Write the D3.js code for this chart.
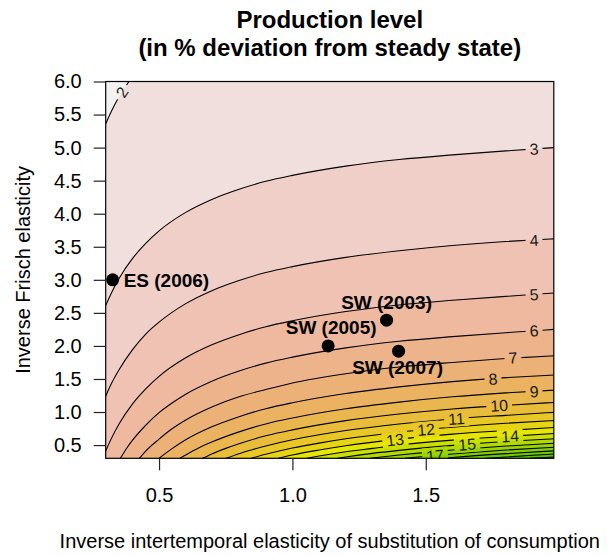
<!DOCTYPE html>
<html><head><meta charset="utf-8">
<script src="https://cdn.jsdelivr.net/npm/d3@7"></script>
<style>
body{margin:0;background:#fff}
text{font-family:"Liberation Sans",Arial,Helvetica,sans-serif}
</style>
</head><body>
<svg id="chart" width="611" height="555"></svg>
<script>
// ---------- data ----------
const sigmaTicks = [0.5, 1.0, 1.5];
const phiTicks = [0.5, 1.0, 1.5, 2.0, 2.5, 3.0, 3.5, 4.0, 4.5, 5.0, 5.5, 6.0];

// contour lines: [sigma, phi] points for each production level
const c2  = [[0.30,5.36],[0.32,5.54],[0.35,5.77],[0.40,6.07],[0.45,6.30],[0.50,6.49]];
const c3  = [[0.30,2.61],[0.32,2.79],[0.35,3.02],[0.40,3.32],[0.45,3.55],[0.50,3.74],[0.60,4.02],[0.70,4.22],[0.80,4.37],[0.90,4.49],[1.00,4.58],[1.20,4.72],[1.40,4.82],[1.60,4.89],[1.80,4.95],[1.98,5.00]];
const c4  = [[0.30,1.24],[0.32,1.42],[0.35,1.64],[0.40,1.94],[0.45,2.18],[0.50,2.36],[0.60,2.64],[0.70,2.84],[0.80,2.99],[0.90,3.11],[1.00,3.20],[1.20,3.34],[1.40,3.44],[1.60,3.52],[1.80,3.58],[1.98,3.62]];
const c5  = [[0.30,0.41],[0.32,0.59],[0.35,0.82],[0.40,1.12],[0.45,1.35],[0.50,1.54],[0.60,1.82],[0.70,2.02],[0.80,2.17],[0.90,2.29],[1.00,2.38],[1.20,2.52],[1.40,2.62],[1.60,2.69],[1.80,2.75],[1.98,2.80]];
const c6  = [[0.355,0.30],[0.38,0.46],[0.40,0.57],[0.45,0.80],[0.50,0.99],[0.55,1.14],[0.60,1.27],[0.70,1.47],[0.80,1.62],[0.90,1.74],[1.00,1.83],[1.20,1.97],[1.40,2.07],[1.60,2.14],[1.80,2.20],[1.98,2.25]];
const c7  = [[0.426,0.30],[0.45,0.41],[0.50,0.59],[0.55,0.75],[0.60,0.88],[0.70,1.08],[0.80,1.23],[0.90,1.34],[1.00,1.44],[1.20,1.58],[1.40,1.68],[1.60,1.75],[1.80,1.81],[1.98,1.85]];
const c8  = [[0.50,0.30],[0.55,0.45],[0.60,0.58],[0.70,0.78],[0.80,0.93],[0.90,1.05],[1.00,1.14],[1.20,1.28],[1.40,1.38],[1.60,1.46],[1.80,1.52],[1.98,1.56]];
const c9  = [[0.579,0.30],[0.60,0.35],[0.65,0.46],[0.70,0.55],[0.80,0.70],[0.90,0.82],[1.00,0.91],[1.20,1.05],[1.40,1.15],[1.60,1.23],[1.80,1.29],[1.98,1.33]];
const c10 = [[0.663,0.30],[0.70,0.37],[0.75,0.45],[0.80,0.52],[0.90,0.64],[1.00,0.73],[1.20,0.87],[1.40,0.97],[1.60,1.045],[1.80,1.10],[1.98,1.145]];
const c11 = [[0.751,0.30],[0.80,0.37],[0.85,0.43],[0.90,0.485],[1.00,0.58],[1.10,0.655],[1.20,0.72],[1.40,0.82],[1.60,0.895],[1.80,0.95],[1.98,0.995]];
const c12 = [[0.845,0.30],[0.90,0.36],[1.00,0.455],[1.10,0.53],[1.20,0.595],[1.40,0.695],[1.60,0.77],[1.80,0.83],[1.98,0.87]];
const c13 = [[0.946,0.30],[1.00,0.35],[1.10,0.425],[1.20,0.49],[1.40,0.59],[1.60,0.665],[1.80,0.72],[1.98,0.765]];
const c14 = [[1.053,0.30],[1.10,0.335],[1.20,0.40],[1.30,0.45],[1.40,0.50],[1.60,0.575],[1.80,0.63],[1.98,0.675]];
const c15 = [[1.168,0.30],[1.20,0.32],[1.30,0.375],[1.40,0.42],[1.60,0.495],[1.80,0.555],[1.98,0.595]];
const c16 = [[1.291,0.30],[1.40,0.35],[1.50,0.39],[1.60,0.425],[1.80,0.485],[1.98,0.527]];
const c17 = [[1.422,0.30],[1.50,0.33],[1.60,0.365],[1.80,0.425],[1.98,0.467]];
const c18 = [[1.565,0.30],[1.60,0.312],[1.80,0.37],[1.98,0.413]];
const c19 = [[1.722,0.30],[1.80,0.32],[1.90,0.345],[1.98,0.364]];
const c20 = [[1.888,0.30],[1.98,0.32]];
const contourLevels = [2,3,4,5,6,7,8,9,10,11,12,13,14,15,16,17,18,19,20];
const contourPoints = [c2,c3,c4,c5,c6,c7,c8,c9,c10,c11,c12,c13,c14,c15,c16,c17,c18,c19,c20];

// contour labels
const labelLevels = [2,3,4,5,6,7,8,9,10,11,12,13,14,15,17];
const labelSigma  = [0.361,1.906,1.906,1.906,1.906,1.827,1.752,1.906,1.775,1.615,1.501,1.385,1.816,1.655,1.535];
const labelPhi    = [5.84,4.98,3.60,2.78,2.23,1.82,1.50,1.31,1.10,0.90,0.735,0.582,0.636,0.512,0.343];

// estimates from the literature
const studyNames = ["ES (2006)","SW (2003)","SW (2005)","SW (2007)"];
const studySigma = [0.326, 1.353, 1.134, 1.398];
const studyPhi   = [3.00, 2.39, 2.00, 1.92];

// ---------- palette: reversed R terrain.colors(n) ----------
function hsv2rgb(h,s,v){
  const i = Math.floor(h*6), f = h*6 - i;
  const p = v*(1-s), q = v*(1-f*s), t = v*(1-(1-f)*s);
  let r,g,b;
  switch(((i%6)+6)%6){
    case 0: r=v;g=t;b=p;break; case 1: r=q;g=v;b=p;break;
    case 2: r=p;g=v;b=t;break; case 3: r=p;g=q;b=v;break;
    case 4: r=t;g=p;b=v;break; default: r=v;g=p;b=q;
  }
  return d3.rgb(Math.round(r*255),Math.round(g*255),Math.round(b*255)).formatHex();
}
function terrainColors(n){
  const k = Math.floor(n/2);
  const h=[4/12,2/12,0], s=[1,1,0], v=[0.65,0.9,0.95];
  const seq=(a,b,m,i)=> m===1 ? a : a+(b-a)*i/(m-1);
  const out=[];
  for(let i=0;i<k;i++) out.push(hsv2rgb(seq(h[0],h[1],k,i),seq(s[0],s[1],k,i),seq(v[0],v[1],k,i)));
  const m=n-k+1;
  for(let i=1;i<m;i++) out.push(hsv2rgb(seq(h[1],h[2],m,i),seq(s[1],s[2],m,i),seq(v[1],v[2],m,i)));
  return out;
}
const bandColors = terrainColors(24).reverse(); // band [1,2] -> index 0

// ---------- drawing ----------
const FONT = '"Liberation Sans",Arial,Helvetica,sans-serif';
const svg = d3.select("#chart");
svg.append("rect").attr("width",611).attr("height",555).attr("fill","#fff");

const x = d3.scaleLinear().domain([0.3, 1.98]).range([105.7, 553.8]);
const y = d3.scaleLinear().domain([0.3, 6.0]).range([458.3, 81.5]);
const [xL, xR] = x.range(), [yB, yT] = y.range();

const defs = svg.append("defs");
defs.append("clipPath").attr("id","plotclip").append("rect")
  .attr("x",xL).attr("y",yT).attr("width",xR-xL).attr("height",yB-yT);
const mask = defs.append("mask").attr("id","labmask")
  .attr("maskUnits","userSpaceOnUse").attr("x",0).attr("y",0).attr("width",611).attr("height",555);
mask.append("rect").attr("width",611).attr("height",555).attr("fill","#fff");

const plot = svg.append("g").attr("clip-path","url(#plotclip)");
plot.append("rect").attr("x",xL).attr("y",yT).attr("width",xR-xL).attr("height",yB-yT)
  .attr("fill",bandColors[0]);

const line = d3.line().x(d=>x(d[0])).y(d=>y(d[1])).curve(d3.curveMonotoneX);

contourLevels.forEach((lev,i)=>{
  const pts = contourPoints[i];
  const first = pts[0], last = pts[pts.length-1];
  const d = line(pts) + `L${xR+5},${y(last[1])}L${xR+5},${yB+5}L${x(first[0])},${yB+5}Z`;
  plot.append("path").attr("d",d).attr("fill",bandColors[lev-1]).attr("stroke","none");
});

const lineG = plot.append("g").attr("mask","url(#labmask)");
contourLevels.forEach((lev,i)=>{
  lineG.append("path").attr("d",line(contourPoints[i]))
    .attr("fill","none").attr("stroke","#000").attr("stroke-width",1.1);
});

// labels along contours
const labG = plot.append("g");
labelLevels.forEach((lev,i)=>{
  const pts = contourPoints[contourLevels.indexOf(lev)];
  const s = labelSigma[i];
  let j = pts.findIndex(p=>p[0]>=s); if(j<1) j=1;
  const a = pts[j-1], b = pts[j];
  const ang = Math.atan2(y(b[1])-y(a[1]), x(b[0])-x(a[0]))*180/Math.PI;
  const px = x(s), py = y(labelPhi[i]);
  const t = labG.append("text").attr("transform",`translate(${px},${py}) rotate(${ang})`)
    .attr("text-anchor","middle").attr("dy","0.36em")
    .attr("font-size",16).attr("font-family",FONT).attr("fill","#1a1a1a").text(lev);
  const w = t.node().getComputedTextLength();
  mask.append("rect").attr("x",-w/2-4).attr("y",-8).attr("width",w+8).attr("height",16)
    .attr("transform",`translate(${px},${py}) rotate(${ang})`).attr("fill","#000");
});

// study points
const ptG = svg.append("g");
const labelPlace = [
  {dx:11, dy:7, anchor:"start"},
  {dx:0, dy:-11, anchor:"middle"},
  {dx:3, dy:-12, anchor:"middle"},
  {dx:-1, dy:23, anchor:"middle"}
];
studyNames.forEach((nm,i)=>{
  const px = x(studySigma[i]), py = y(studyPhi[i]);
  ptG.append("circle").attr("cx",px).attr("cy",py).attr("r",6.5).attr("fill","#000");
  ptG.append("text").attr("x",px+labelPlace[i].dx).attr("y",py+labelPlace[i].dy)
    .attr("text-anchor",labelPlace[i].anchor).attr("font-size",19).attr("font-weight","bold")
    .attr("font-family",FONT).attr("fill","#000").text(nm);
});

// box
svg.append("rect").attr("x",xL).attr("y",yT).attr("width",xR-xL).attr("height",yB-yT)
  .attr("fill","none").attr("stroke","#000").attr("stroke-width",1.2);

// axes
const yAxis = d3.axisLeft(y).tickValues(phiTicks).tickFormat(d3.format(".1f")).tickSize(12).tickPadding(12);
svg.append("g").attr("transform",`translate(${xL},0)`).call(yAxis)
  .attr("font-size",20).attr("font-family",FONT)
  .call(g=>g.select(".domain").remove())
  .call(g=>g.selectAll("line").attr("stroke","#222").attr("stroke-width",1.2))
  .call(g=>g.selectAll("text").attr("fill","#000"));
const xAxis = d3.axisBottom(x).tickValues(sigmaTicks).tickFormat(d3.format(".1f")).tickSize(12).tickPadding(18);
svg.append("g").attr("transform",`translate(0,${yB})`).call(xAxis)
  .attr("font-size",20).attr("font-family",FONT)
  .call(g=>g.select(".domain").remove())
  .call(g=>g.selectAll("line").attr("stroke","#222").attr("stroke-width",1.2))
  .call(g=>g.selectAll("text").attr("fill","#000"));

// titles
const cx = (xL+xR)/2;
svg.append("text").attr("x",cx).attr("y",28).attr("text-anchor","middle")
  .attr("font-size",24).attr("font-weight","bold").attr("font-family",FONT).text("Production level");
svg.append("text").attr("x",cx).attr("y",56).attr("text-anchor","middle")
  .attr("font-size",24).attr("font-weight","bold").attr("font-family",FONT).text("(in % deviation from steady state)");
svg.append("text").attr("x",cx).attr("y",548).attr("text-anchor","middle")
  .attr("font-size",20).attr("font-family",FONT).text("Inverse intertemporal elasticity of substitution of consumption");
svg.append("text").attr("transform",`translate(30,${(yT+yB)/2}) rotate(-90)`).attr("text-anchor","middle")
  .attr("font-size",20).attr("font-family",FONT).text("Inverse Frisch elasticity");
</script>
</body></html>
